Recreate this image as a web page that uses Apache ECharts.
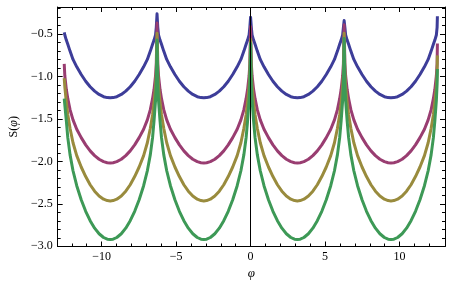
<!DOCTYPE html>
<html>
<head>
<meta charset="utf-8">
<script src="https://cdn.jsdelivr.net/npm/echarts@6/dist/echarts.min.js"></script>
<style>html,body{margin:0;padding:0;background:#fff}#c{width:466px;height:293px}</style>
</head>
<body>
<div id="c"></div>
<script>
// sample positions (phi)
var xs = [
 -12.51,-12.47,-12.37,-12.27,-12.12,-11.92,-11.67,-11.37,-11.07,-10.77,-10.47,-10.17,-9.87,-9.62,-9.42,
 -9.23,-8.98,-8.68,-8.38,-8.08,-7.78,-7.48,-7.18,-6.93,-6.73,-6.58,-6.48,-6.38,-6.33,-6.28,
 -6.23,-6.18,-6.08,-5.98,-5.83,-5.63,-5.38,-5.08,-4.78,-4.48,-4.18,-3.88,-3.58,-3.33,-3.14,
 -2.95,-2.70,-2.40,-2.10,-1.80,-1.50,-1.20,-0.90,-0.65,-0.45,-0.30,-0.20,-0.10,-0.05,0,
 0.05,0.10,0.20,0.30,0.45,0.65,0.90,1.20,1.50,1.80,2.10,2.40,2.70,2.95,3.14,
 3.33,3.58,3.88,4.18,4.48,4.78,5.08,5.38,5.63,5.83,5.98,6.08,6.18,6.23,6.28,
 6.33,6.38,6.48,6.58,6.73,6.93,7.18,7.48,7.78,8.08,8.38,8.68,8.98,9.23,9.42,
 9.62,9.87,10.17,10.47,10.77,11.07,11.37,11.67,11.92,12.12,12.27,12.37,12.47,12.52,12.54
];
var sBlue = [
 -0.48,-0.51,-0.57,-0.62,-0.70,-0.798,-0.885,-0.976,-1.055,-1.12,-1.172,-1.211,-1.237,-1.248,-1.251,
 -1.248,-1.237,-1.211,-1.172,-1.12,-1.055,-0.976,-0.885,-0.798,-0.70,-0.62,-0.57,-0.51,-0.42,-0.26,
 -0.42,-0.51,-0.57,-0.62,-0.70,-0.798,-0.885,-0.976,-1.055,-1.12,-1.172,-1.211,-1.237,-1.248,-1.251,
 -1.248,-1.237,-1.211,-1.172,-1.12,-1.055,-0.976,-0.885,-0.798,-0.70,-0.62,-0.57,-0.51,-0.42,-0.30,
 -0.42,-0.51,-0.57,-0.62,-0.70,-0.798,-0.885,-0.976,-1.055,-1.12,-1.172,-1.211,-1.237,-1.248,-1.251,
 -1.248,-1.237,-1.211,-1.172,-1.12,-1.055,-0.976,-0.885,-0.798,-0.70,-0.62,-0.57,-0.51,-0.42,-0.34,
 -0.42,-0.51,-0.57,-0.62,-0.70,-0.798,-0.885,-0.976,-1.055,-1.12,-1.172,-1.211,-1.237,-1.248,-1.251,
 -1.248,-1.237,-1.211,-1.172,-1.12,-1.055,-0.976,-0.885,-0.798,-0.70,-0.62,-0.57,-0.51,-0.42,-0.29
];
var sPurple = [
 -0.85,-0.99,-1.15,-1.26,-1.39,-1.51,-1.621,-1.72,-1.805,-1.876,-1.932,-1.975,-2.003,-2.015,-2.018,
 -2.015,-2.003,-1.975,-1.932,-1.876,-1.805,-1.72,-1.621,-1.51,-1.39,-1.26,-1.15,-0.99,-0.85,-0.37,
 -0.85,-0.99,-1.15,-1.26,-1.39,-1.51,-1.621,-1.72,-1.805,-1.876,-1.932,-1.975,-2.003,-2.015,-2.018,
 -2.015,-2.003,-1.975,-1.932,-1.876,-1.805,-1.72,-1.621,-1.51,-1.39,-1.26,-1.15,-0.99,-0.85,-0.41,
 -0.85,-0.99,-1.15,-1.26,-1.39,-1.51,-1.621,-1.72,-1.805,-1.876,-1.932,-1.975,-2.003,-2.015,-2.018,
 -2.015,-2.003,-1.975,-1.932,-1.876,-1.805,-1.72,-1.621,-1.51,-1.39,-1.26,-1.15,-0.99,-0.85,-0.39,
 -0.85,-0.99,-1.15,-1.26,-1.39,-1.51,-1.621,-1.72,-1.805,-1.876,-1.932,-1.975,-2.003,-2.015,-2.018,
 -2.015,-2.003,-1.975,-1.932,-1.876,-1.805,-1.72,-1.621,-1.51,-1.39,-1.26,-1.15,-0.99,-0.85,-0.61
];
var sOlive = [
 -1.02,-1.12,-1.30,-1.45,-1.61,-1.78,-1.932,-2.066,-2.179,-2.275,-2.351,-2.408,-2.445,-2.462,-2.466,
 -2.462,-2.445,-2.408,-2.351,-2.275,-2.179,-2.066,-1.932,-1.78,-1.61,-1.45,-1.30,-1.12,-0.95,-0.49,
 -0.95,-1.12,-1.30,-1.45,-1.61,-1.78,-1.932,-2.066,-2.179,-2.275,-2.351,-2.408,-2.445,-2.462,-2.466,
 -2.462,-2.445,-2.408,-2.351,-2.275,-2.179,-2.066,-1.932,-1.78,-1.61,-1.45,-1.30,-1.12,-0.95,-0.56,
 -0.95,-1.12,-1.30,-1.45,-1.61,-1.78,-1.932,-2.066,-2.179,-2.275,-2.351,-2.408,-2.445,-2.462,-2.466,
 -2.462,-2.445,-2.408,-2.351,-2.275,-2.179,-2.066,-1.932,-1.78,-1.61,-1.45,-1.30,-1.12,-0.95,-0.49,
 -0.95,-1.12,-1.30,-1.45,-1.61,-1.78,-1.932,-2.066,-2.179,-2.275,-2.351,-2.408,-2.445,-2.462,-2.466,
 -2.462,-2.445,-2.408,-2.351,-2.275,-2.179,-2.066,-1.932,-1.78,-1.61,-1.45,-1.30,-1.12,-0.95,-0.75
];
var sGreen = [
 -1.26,-1.28,-1.52,-1.72,-1.92,-2.11,-2.286,-2.451,-2.588,-2.699,-2.787,-2.853,-2.897,-2.917,-2.921,
 -2.917,-2.897,-2.853,-2.787,-2.699,-2.588,-2.451,-2.286,-2.11,-1.92,-1.72,-1.52,-1.28,-1.09,-0.57,
 -1.09,-1.28,-1.52,-1.72,-1.92,-2.11,-2.286,-2.451,-2.588,-2.699,-2.787,-2.853,-2.897,-2.917,-2.921,
 -2.917,-2.897,-2.853,-2.787,-2.699,-2.588,-2.451,-2.286,-2.11,-1.92,-1.72,-1.52,-1.28,-1.09,-0.61,
 -1.09,-1.28,-1.52,-1.72,-1.92,-2.11,-2.286,-2.451,-2.588,-2.699,-2.787,-2.853,-2.897,-2.917,-2.921,
 -2.917,-2.897,-2.853,-2.787,-2.699,-2.588,-2.451,-2.286,-2.11,-1.92,-1.72,-1.52,-1.28,-1.09,-0.55,
 -1.09,-1.28,-1.52,-1.72,-1.92,-2.11,-2.286,-2.451,-2.588,-2.699,-2.787,-2.853,-2.897,-2.917,-2.921,
 -2.917,-2.897,-2.853,-2.787,-2.699,-2.588,-2.451,-2.286,-2.11,-1.92,-1.72,-1.52,-1.28,-1.09,-0.91
];
var xMajorTicks = [-10,-5,0,5,10];
var xMinorTicks = [-12,-11,-9,-8,-7,-6,-4,-3,-2,-1,1,2,3,4,6,7,8,9,11,12];
var yMajorTicks = [-3.0,-2.5,-2.0,-1.5,-1.0,-0.5];
var yMinorTicks = [-2.9,-2.8,-2.7,-2.6,-2.4,-2.3,-2.2,-2.1,-1.9,-1.8,-1.7,-1.6,-1.4,-1.3,-1.2,-1.1,-0.9,-0.8,-0.7,-0.6,-0.4,-0.3,-0.2];

var FONT = 'Liberation Serif';
var XMIN = -12.95, XMAX = 13.05, YMIN = -3.003, YMAX = -0.18;
function fmtX(v){ return v < 0 ? '\u2212' + Math.abs(v) : String(v); }
function fmtY(v){ return v < 0 ? '\u2212' + Math.abs(v).toFixed(1) : v.toFixed(1); }
function pairs(ys){ return xs.map(function(x,i){ return [x, ys[i]]; }); }

function xAx(pos, ticks, len, labels, line){
  return {type:'value', position:pos, min:XMIN, max:XMAX, gridIndex:0,
    axisLine:{show:line, onZero:false, lineStyle:{color:'#000', width:1}},
    axisTick:{show:true, inside:true, length:len, customValues:ticks, lineStyle:{color:'#000', width:1}},
    axisLabel:{show:labels, customValues:ticks, formatter:fmtX, color:'#000', fontFamily:FONT, fontSize:12, margin:4},
    splitLine:{show:false}};
}
function yAx(pos, ticks, len, labels, line){
  return {type:'value', position:pos, min:YMIN, max:YMAX, gridIndex:0,
    axisLine:{show:line, onZero:false, lineStyle:{color:'#000', width:1}},
    axisTick:{show:true, inside:true, length:len, customValues:ticks, lineStyle:{color:'#000', width:1}},
    axisLabel:{show:labels, customValues:ticks, formatter:fmtY, color:'#000', fontFamily:FONT, fontSize:12, margin:5},
    splitLine:{show:false}};
}
var xa0 = xAx('bottom', xMajorTicks, 5, true, true);
xa0.name = '\u03c6'; xa0.nameLocation = 'middle'; xa0.nameGap = 19;
xa0.nameTextStyle = {fontFamily:FONT, fontSize:13, fontStyle:'italic', color:'#000'};
var ya0 = yAx('left', yMajorTicks, 5, true, true);
ya0.name = '{a|S(}{b|\u03c6}{a|)}'; ya0.nameLocation = 'middle'; ya0.nameGap = 36; ya0.nameRotate = 90;
ya0.nameTextStyle = {color:'#000', rich:{a:{fontFamily:FONT, fontSize:12, color:'#000'}, b:{fontFamily:FONT, fontSize:12, fontStyle:'italic', color:'#000'}}};

var chart = echarts.init(document.getElementById('c'), null, {renderer:'canvas'});
function ser(name, ys, color, extra){
  var s = {name:name, type:'line', data:pairs(ys), xAxisIndex:0, yAxisIndex:0,
    showSymbol:false, symbol:'none', smooth:false, clip:true, animation:false,
    lineStyle:{color:color, width:3, join:'round'}, itemStyle:{color:color}};
  if (extra) s.markLine = extra;
  return s;
}
chart.setOption({
  animation:false,
  backgroundColor:'#fff',
  grid:{left:57, right:21, top:7, bottom:46.5, containLabel:false},
  xAxis:[xa0, xAx('bottom', xMinorTicks, 3, false, false), xAx('top', xMajorTicks, 5, false, true), xAx('top', xMinorTicks, 3, false, false)],
  yAxis:[ya0, yAx('left', yMinorTicks, 3, false, false), yAx('right', yMajorTicks, 5, false, true), yAx('right', yMinorTicks, 3, false, false)],
  series:[
    ser('s1', sBlue, '#3D3D99'),
    ser('s2', sPurple, '#993D71'),
    ser('s3', sOlive, '#998B3D'),
    ser('s4', sGreen, '#3D9956', {silent:true, symbol:'none', label:{show:false}, animation:false,
       lineStyle:{color:'#000', width:1, type:'solid'}, data:[{xAxis:0}]})
  ]
});
</script>
</body>
</html>
